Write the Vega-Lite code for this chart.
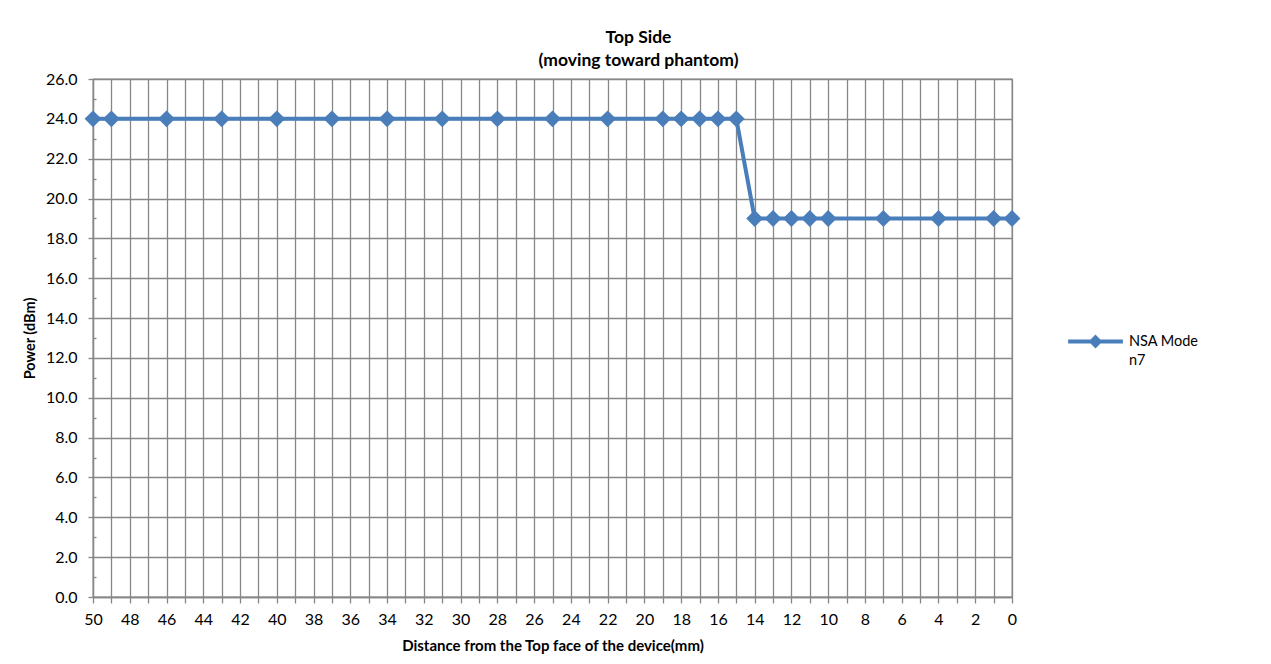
{
  "$schema": "https://vega.github.io/schema/vega-lite/v6.json",
  "width": 919,
  "height": 518,
  "autosize": {"type": "none"},
  "padding": {"left": 93, "top": 79, "right": 259, "bottom": 67},
  "background": "white",
  "config": {
    "font": "Lato",
    "view": {"stroke": "#878787", "strokeWidth": 1.3}
  },
  "title": {
    "text": ["Top Side", "(moving toward phantom)"],
    "font": "Lato",
    "fontSize": 17.5,
    "fontWeight": "bold",
    "color": "#000000",
    "anchor": "middle",
    "frame": "group",
    "dx": 86,
    "lineHeight": 23,
    "offset": 2
  },
  "data": {
    "values": [
      {"distance": 50, "power": 24.0, "series": "NSA Mode n7"},
      {"distance": 49, "power": 24.0, "series": "NSA Mode n7"},
      {"distance": 46, "power": 24.0, "series": "NSA Mode n7"},
      {"distance": 43, "power": 24.0, "series": "NSA Mode n7"},
      {"distance": 40, "power": 24.0, "series": "NSA Mode n7"},
      {"distance": 37, "power": 24.0, "series": "NSA Mode n7"},
      {"distance": 34, "power": 24.0, "series": "NSA Mode n7"},
      {"distance": 31, "power": 24.0, "series": "NSA Mode n7"},
      {"distance": 28, "power": 24.0, "series": "NSA Mode n7"},
      {"distance": 25, "power": 24.0, "series": "NSA Mode n7"},
      {"distance": 22, "power": 24.0, "series": "NSA Mode n7"},
      {"distance": 19, "power": 24.0, "series": "NSA Mode n7"},
      {"distance": 18, "power": 24.0, "series": "NSA Mode n7"},
      {"distance": 17, "power": 24.0, "series": "NSA Mode n7"},
      {"distance": 16, "power": 24.0, "series": "NSA Mode n7"},
      {"distance": 15, "power": 24.0, "series": "NSA Mode n7"},
      {"distance": 14, "power": 19.0, "series": "NSA Mode n7"},
      {"distance": 13, "power": 19.0, "series": "NSA Mode n7"},
      {"distance": 12, "power": 19.0, "series": "NSA Mode n7"},
      {"distance": 11, "power": 19.0, "series": "NSA Mode n7"},
      {"distance": 10, "power": 19.0, "series": "NSA Mode n7"},
      {"distance": 7, "power": 19.0, "series": "NSA Mode n7"},
      {"distance": 4, "power": 19.0, "series": "NSA Mode n7"},
      {"distance": 1, "power": 19.0, "series": "NSA Mode n7"},
      {"distance": 0, "power": 19.0, "series": "NSA Mode n7"}
    ]
  },
  "mark": {
    "type": "line",
    "strokeWidth": 4,
    "clip": false,
    "point": {"shape": "diamond", "size": 285, "filled": true, "opacity": 1}
  },
  "encoding": {
    "x": {
      "field": "distance",
      "type": "quantitative",
      "scale": {"domain": [0, 50], "reverse": true, "nice": false, "zero": false},
      "axis": {
        "title": "Distance from the Top face of the device(mm)",
        "titleFont": "Lato",
        "titleFontSize": 15,
        "titleFontWeight": "bold",
        "titleColor": "#000000",
        "titlePadding": 11,
        "values": [0,1,2,3,4,5,6,7,8,9,10,11,12,13,14,15,16,17,18,19,20,21,22,23,24,25,26,27,28,29,30,31,32,33,34,35,36,37,38,39,40,41,42,43,44,45,46,47,48,49,50],
        "labelExpr": "datum.value % 2 === 0 ? datum.label : ''",
        "labelFontSize": 16,
        "labelColor": "#000000",
        "labelPadding": 8,
        "labelFlush": false,
        "labelOverlap": false,
        "tickSize": 6,
        "tickColor": "#878787",
        "tickWidth": 1.3,
        "grid": true,
        "gridColor": "#878787",
        "gridWidth": 1.3,
        "gridOpacity": 1,
        "domainColor": "#878787",
        "domainWidth": 1.3
      }
    },
    "y": {
      "field": "power",
      "type": "quantitative",
      "scale": {"domain": [0, 26], "nice": false, "zero": true},
      "axis": {
        "title": "Power (dBm)",
        "titleFont": "Lato",
        "titleFontSize": 14.5,
        "titleFontWeight": "bold",
        "titleColor": "#000000",
        "titlePadding": 8,
        "values": [0,1,2,3,4,5,6,7,8,9,10,11,12,13,14,15,16,17,18,19,20,21,22,23,24,25,26],
        "labelExpr": "datum.value % 2 === 0 ? format(datum.value, '.1f') : ''",
        "labelFontSize": 16,
        "labelColor": "#000000",
        "labelPadding": 11,
        "labelOverlap": false,
        "tickSize": {"condition": {"test": "datum.value % 2 === 0", "value": 5}, "value": -3},
        "tickColor": "#878787",
        "tickWidth": 1.3,
        "grid": true,
        "gridColor": "#878787",
        "gridWidth": 1.3,
        "gridOpacity": {"condition": {"test": "datum.value % 2 === 0", "value": 1}, "value": 0},
        "domainColor": "#878787",
        "domainWidth": 1.3
      }
    },
    "color": {
      "field": "series",
      "type": "nominal",
      "scale": {"range": ["#4A7EBB"]},
      "legend": {
        "title": null,
        "orient": "none",
        "legendX": 973,
        "legendY": 233,
        "symbolType": "M-1,0H1M0,-0.15L0.15,0L0,0.15L-0.15,0Z",
        "symbolSize": 3000,
        "symbolStrokeWidth": 4,
        "symbolStrokeColor": "#4A7EBB",
        "symbolFillColor": "#4A7EBB",
        "labelExpr": "['NSA Mode', 'n7']",
        "labelFont": "Lato",
        "labelFontSize": 14.5,
        "labelColor": "#000000",
        "labelLineHeight": 19,
        "labelOffset": 4,
        "encode": {"labels": {"update": {"lineHeight": {"value": 19}}}}
      }
    }
  }
}
